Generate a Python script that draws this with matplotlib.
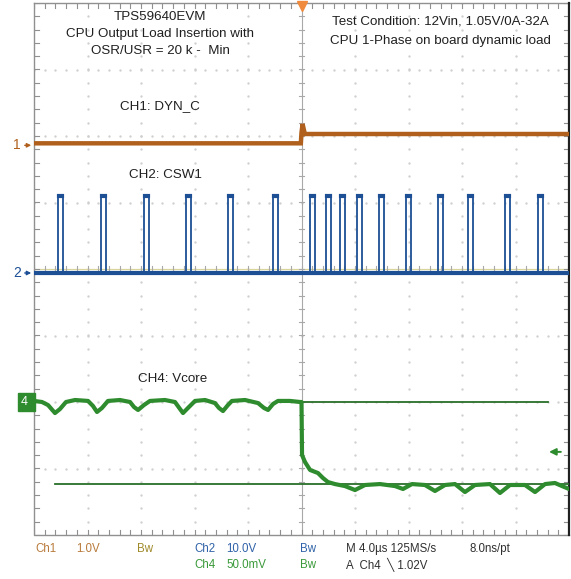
import matplotlib
matplotlib.use("Agg")
import matplotlib.pyplot as plt
import numpy as np

# ---------------- data ----------------
# time axis in microseconds (4 us/div, trigger at 0)
ch1_time = [-20.0, -0.05, 0.0, 0.08, 0.25, 20.0]
ch1_div = [1.89, 1.89, 2.05, 2.18, 2.03, 2.03]          # CH1 trace position (div)

ch2_pulse_t = [-18.21, -14.99, -11.78, -8.64, -5.50, -2.13, 0.64, 1.83,
               2.88, 4.15, 5.79, 7.81, 10.21, 12.45, 15.21, 17.68]  # pulse start (us)
ch2_pulse_w = 0.35     # us
ch2_low_v = -0.6       # V
ch2_high_v = 11.0      # V
ch2_offset_div = 0.0

ch4_time = [-20.0, -19.40, -18.95, -18.43, -18.06, -17.61, -16.93, -15.96, -15.59,
            -15.29, -14.92, -14.47, -13.57, -12.82, -12.52, -12.22, -11.78, -11.33,
            -10.21, -9.46, -9.08, -8.86, -8.49, -7.96, -7.21, -6.47, -6.17, -5.87,
            -5.50, -5.20, -4.22, -3.25, -2.80, -2.50, -2.13, -1.76, -0.86, -0.11,
            0.0, 0.04, 0.26, 0.64, 1.23, 1.61, 1.98, 2.50, 3.25, 4.00, 4.75, 5.87,
            6.99, 7.59, 8.26, 9.23, 9.98, 10.73, 11.48, 12.22, 12.97, 14.09, 14.84,
            15.59, 16.71, 17.46, 18.21, 18.95, 19.48, 20.0]
ch4_mv = [0.8, 0.0, -2.3, -8.3, -5.3, 0.0, 1.5, 0.8, -3.0,
          -7.5, -4.5, 0.8, 1.5, 0.0, -3.8, -6.0, -2.3, 0.8,
          1.5, 0.0, -5.3, -8.3, -4.5, 0.8, 1.5, -0.8, -4.5, -6.8,
          -2.3, 0.8, 1.5, -0.8, -4.5, -6.0, -1.5, 0.8, 0.8, 0.0,
          0.0, -39.9, -45.1, -51.1, -53.4, -57.2, -60.2, -61.7, -63.2, -66.2, -62.4, -61.7,
          -63.2, -65.4, -61.7, -62.4, -66.9, -62.4, -61.7, -67.7, -62.4, -61.7, -68.4,
          -62.4, -62.4, -67.7, -61.7, -60.9, -63.2, -65.4]
ch4_offset_div = -2.0
ch4_scale_mv = 50.0
ch4_cursor_mv = [0.0, -62.0]
ch4_trigger_mv = -37.5
ch1_offset_div = 1.86

title_lines = ["TPS59640EVM", "CPU Output Load Insertion with", "OSR/USR = 20 k -  Min"]
cond_lines = ["Test Condition: 12Vin, 1.05V/0A-32A", "CPU 1-Phase on board dynamic load"]

C1 = "#b0601c"
C2 = "#1d4f95"
C4 = "#2e8b2e"
GRID = "#cfcfcf"

W, H = 571, 579
fig = plt.figure(figsize=(W / 100, H / 100), dpi=100)
fig.patch.set_facecolor("white")
L, R, T, B = 34, 569, 3, 535
ax = fig.add_axes([L / W, 1 - B / H, (R - L) / W, (B - T) / H])
ax.set_xlim(-20, 20)
ax.set_ylim(-4, 4)
ax.axis("off")

# ---------------- graticule ----------------
minor_x = np.arange(-20, 20.001, 0.8)
minor_y = np.arange(-4, 4.001, 0.2)
for gx in np.arange(-16, 16.1, 4):
    if abs(gx) < 1e-6:
        continue
    ax.plot(np.full_like(minor_y, gx), minor_y, ls="none", marker="o", ms=0.7,
            color=GRID, zorder=1)
for gy in np.arange(-3, 3.1, 1):
    if abs(gy) < 1e-6:
        continue
    ax.plot(minor_x, np.full_like(minor_x, gy), ls="none", marker="o", ms=0.7,
            color=GRID, zorder=1)

tx = 0.35   # tick length in us
ty = 0.07   # tick length in div
ax.axvline(0, color="#a8a8a8", lw=0.8, zorder=1)
ax.axhline(0, color="#d8d49c", lw=0.9, zorder=1)
for y in minor_y:
    ax.plot([-tx * 0.6, tx * 0.6], [y, y], color="#a8a8a8", lw=0.8, zorder=1)
    ax.plot([-20, -20 + tx], [y, y], color="#909090", lw=0.8, zorder=1)
    ax.plot([20 - tx, 20], [y, y], color="#909090", lw=0.8, zorder=1)
for x in minor_x:
    ax.plot([x, x], [-ty * 0.6, ty * 0.6], color="#a8a8a8", lw=0.8, zorder=1)
    ax.plot([x, x], [4 - ty, 4], color="#909090", lw=0.8, zorder=1)
    ax.plot([x, x], [-4, -4 + ty], color="#909090", lw=0.8, zorder=1)
ax.plot([-20, -20, 20], [4, -4, -4], color="#909090", lw=1.0, zorder=1, clip_on=False)
ax.plot([-20, 20], [4, 4], color="#909090", lw=1.0, zorder=1, clip_on=False)
ax.plot([20, 20], [-4, 4], color="#202020", lw=1.6, zorder=1, clip_on=False)

# ---------------- traces ----------------
ax.plot(ch1_time, ch1_div, color=C1, lw=3.2, zorder=3, solid_joinstyle="miter")

# CH2 baseline + pulses
lo = ch2_offset_div + ch2_low_v / 10.0
hi = ch2_offset_div + ch2_high_v / 10.0
ax.plot([-20, 20], [lo, lo], color=C2, lw=3.0, zorder=3)
for t0 in ch2_pulse_t:
    ax.plot([t0, t0, t0 + ch2_pulse_w, t0 + ch2_pulse_w], [lo, hi, hi, lo],
            color=C2, lw=1.3, zorder=4)
    ax.plot([t0 + 0.05, t0 + ch2_pulse_w - 0.05], [hi, hi], color=C2, lw=3.0, zorder=4)

# CH4
ch4_div = [ch4_offset_div + v / ch4_scale_mv for v in ch4_mv]
ax.plot(ch4_time, ch4_div, color=C4, lw=3.0, zorder=3)
c_hi = ch4_offset_div + ch4_cursor_mv[0] / ch4_scale_mv
c_lo = ch4_offset_div + ch4_cursor_mv[1] / ch4_scale_mv
ax.plot([0, 18.43], [c_hi, c_hi], color="#2a6e2a", lw=1.3, zorder=2)
ax.plot([-18.43, 20], [c_lo, c_lo], color="#2a6e2a", lw=1.3, zorder=2)

# trigger level arrow (right)
trig = ch4_offset_div + ch4_trigger_mv / ch4_scale_mv
ax.annotate("", xy=(18.3, trig), xytext=(19.6, trig),
            arrowprops=dict(arrowstyle="-|>", color=C4, lw=1.4, mutation_scale=10))
# trigger position marker (top)
ax.plot([0], [3.96], marker="v", color="#f08a3c", ms=7, zorder=6, clip_on=False)

# channel markers (left)
fnt = ["Liberation Sans", "DejaVu Sans"]
for lev, lab, col in [(ch1_offset_div, "1", C1), (ch2_offset_div + ch2_low_v / 10.0, "2", C2)]:
    ax.annotate("", xy=(-20, lev), xytext=(-20.9, lev),
                arrowprops=dict(arrowstyle="-|>", color=col, lw=1.0, mutation_scale=6),
                annotation_clip=False)
    ax.text(-21.0, lev, lab, color=col, fontsize=10, ha="right", va="center",
            family=fnt, clip_on=False)
ax.text(-20.15, ch4_offset_div, "4 ", color="white", fontsize=9, ha="right", va="center",
        family=fnt, clip_on=False,
        bbox=dict(boxstyle="square,pad=0.25", fc=C4, ec=C4))

# ---------------- annotations ----------------
for i, s in enumerate(title_lines):
    fig.text(160 / W, 1 - (17 + 17 * i) / H, s, ha="center", va="center",
             fontsize=9.6, family=fnt, color="#202020")
for i, s in enumerate(cond_lines):
    fig.text(440 / W, 1 - (21 + 20 * i) / H, s, ha="center", va="center",
             fontsize=9.6, family=fnt, color="#202020")
fig.text(160 / W, 1 - 106 / H, "CH1: DYN_C", ha="center", va="center",
         fontsize=9.6, family=fnt, color="#202020")
fig.text(165 / W, 1 - 175 / H, "CH2: CSW1", ha="center", va="center",
         fontsize=9.6, family=fnt, color="#202020")
fig.text(173 / W, 1 - 379 / H, "CH4: Vcore", ha="center", va="center",
         fontsize=9.6, family=fnt, color="#202020")

# ---------------- scope status bar ----------------
nf = ["Liberation Sans Narrow", "Liberation Sans", "DejaVu Sans"]
row1, row2 = 1 - 549 / H, 1 - 565 / H
bar = [
    (35, row1, "Ch1", "#b87a3a"), (76, row1, "1.0V", "#b87a3a"), (137, row1, "Bw", "#a08a2a"),
    (194, row1, "Ch2", "#2f62a8"), (226, row1, "10.0V", "#2f62a8"), (300, row1, "Bw", "#2f62a8"),
    (346, row1, "M 4.0\u00b5s 125MS/s", "#303030"), (469, row1, "8.0ns/pt", "#303030"),
    (194, row2, "Ch4", "#3a9a3a"), (226, row2, "50.0mV", "#3a9a3a"), (300, row2, "Bw", "#3a9a3a"),
    (346, row2, "A  Ch4  \u2572 1.02V", "#303030"),
]
for x, y, s, c in bar:
    fig.text(x / W, y, s, ha="left", va="center", fontsize=8.3, family=nf, color=c)

fig.savefig("out.png", dpi=100, facecolor="white")
